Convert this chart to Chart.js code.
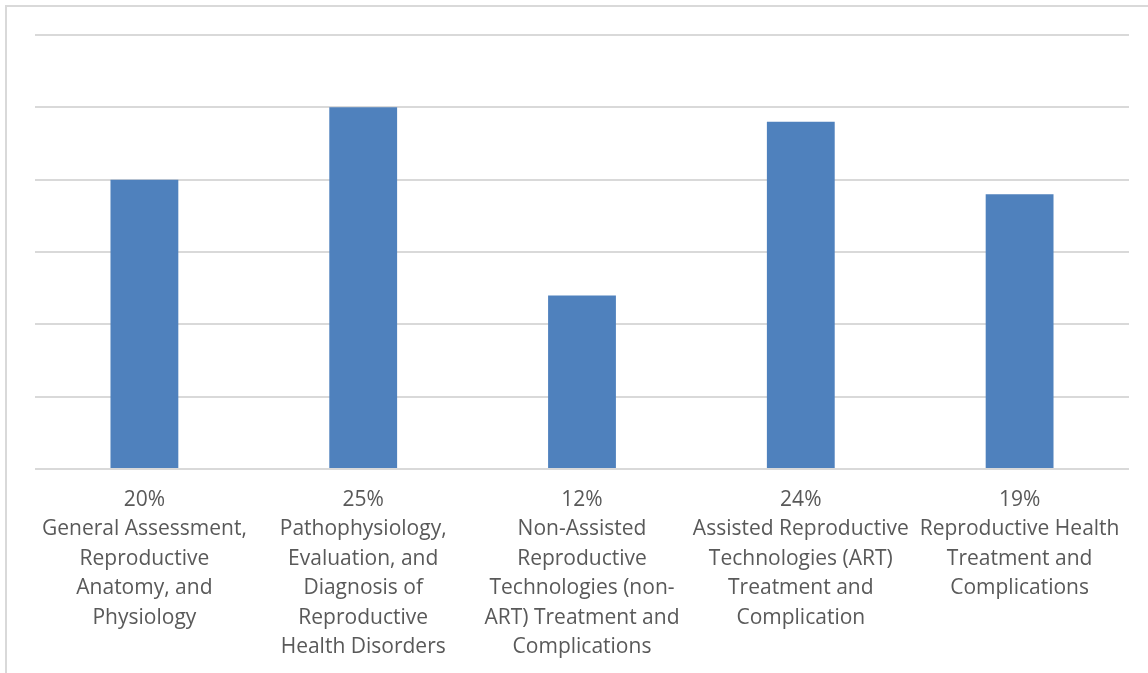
<!DOCTYPE html>
<html>
<head>
<meta charset="utf-8">
<script src="https://cdn.jsdelivr.net/npm/chart.js@4"></script>
<style>
  html, body { margin: 0; padding: 0; background: #fff; }
  canvas { display: block; }
</style>
</head>
<body>
<canvas id="grafico" width="1148" height="673"></canvas>
<script>
// datos del grafico
var categorias = [
  ['General Assessment,', 'Reproductive', 'Anatomy, and', 'Physiology'],
  ['Pathophysiology,', 'Evaluation, and', 'Diagnosis of', 'Reproductive', 'Health Disorders'],
  ['Non-Assisted', 'Reproductive', 'Technologies (non-', 'ART) Treatment and', 'Complications'],
  ['Assisted Reproductive', 'Technologies (ART)', 'Treatment and', 'Complication'],
  ['Reproductive Health', 'Treatment and', 'Complications']
];
var porcentajes = [20, 25, 12, 24, 19];
var ejeY = { min: 0, max: 30, paso: 5 };

var etiquetas = categorias.map((lineas, i) => [porcentajes[i] + '%'].concat(lineas));

// marco gris alrededor del grafico
var marco = {
  id: 'marco',
  beforeDraw: (chart) => {
    var ctx = chart.ctx;
    ctx.save();
    ctx.strokeStyle = '#d9d9d9';
    ctx.lineWidth = 2;
    ctx.beginPath();
    ctx.moveTo(6, 700);
    ctx.lineTo(6, 6);
    ctx.lineTo(1200, 6);
    ctx.stroke();
    ctx.restore();
  }
};

var ctx = document.getElementById('grafico').getContext('2d');
var chart = new Chart(ctx, {
  type: 'bar',
  data: {
    labels: etiquetas,
    datasets: [{
      data: porcentajes,
      backgroundColor: '#4f81bd',
      borderWidth: 0,
      categoryPercentage: 1,
      barPercentage: 0.31
    }]
  },
  options: {
    responsive: false,
    animation: false,
    devicePixelRatio: 1,
    layout: { padding: { left: 35, top: 35, right: 19, bottom: 0 } },
    plugins: { legend: { display: false }, tooltip: { enabled: false } },
    scales: {
      x: {
        grid: { display: false },
        border: { display: false },
        ticks: {
          color: '#595959',
          padding: 8,
          maxRotation: 0,
          autoSkip: false,
          font: { family: 'Open Sans', size: 21, lineHeight: 1.405 }
        },
        afterFit: (scale) => { scale.height = 673 - 469; }
      },
      y: {
        min: ejeY.min,
        max: ejeY.max,
        ticks: { display: false, stepSize: ejeY.paso },
        grid: { color: '#d9d9d9', lineWidth: 2, drawTicks: false },
        border: { display: false },
        afterFit: (scale) => { scale.width = 0; }
      }
    }
  },
  plugins: [marco]
});
</script>
</body>
</html>
